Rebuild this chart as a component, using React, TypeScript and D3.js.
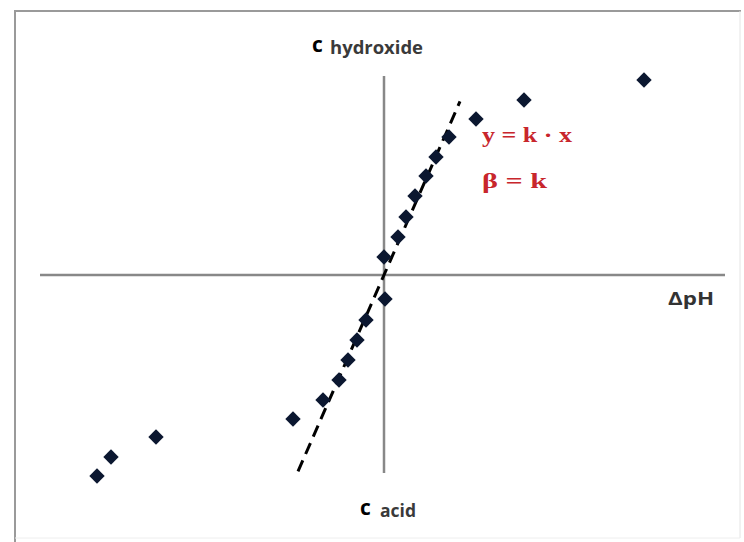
import { useEffect } from 'react';
import * as d3 from 'd3';

// measured points (ΔpH, c) — negative c = acid side
const deltaPH = [2.6, 1.4, 0.92, 0.65, 0.52, 0.42, 0.31, 0.22, 0.14, 0.0, 0.01, -0.18, -0.27, -0.36, -0.45, -0.61, -0.91, -2.28, -2.73, -2.87];
const conc = [1.95, 1.75, 1.56, 1.38, 1.18, 0.99, 0.79, 0.58, 0.38, 0.18, -0.24, -0.45, -0.65, -0.85, -1.05, -1.25, -1.44, -1.62, -1.82, -2.01];

// linear fit y = k·x drawn as a dashed line
const slopeK = 2.284;
const fitRange = [-0.86, 0.76];

const W = 744;
const H = 542;

export default function App() {
  useEffect(() => {
    document.body.style.margin = '0';
  }, []);

  const x = d3.scaleLinear().domain([-3.44, 3.41]).range([40, 725]);
  const y = d3.scaleLinear().domain([-1.98, 1.99]).range([473, 76]);

  const points = deltaPH.map((d, i) => ({ x: d, y: conc[i] }));
  const diamond = d3.symbol(d3.symbolSquare, 118)();
  const fitLine = d3
    .line<number>()
    .x((d) => x(d))
    .y((d) => y(slopeK * d));

  const [x0, x1] = x.domain();
  const [y0, y1] = y.domain();

  return (
    <svg width={W} height={H} style={{ display: 'block', background: '#fff' }}>
      {/* frame */}
      <line x1={15} y1={11} x2={741} y2={11} stroke="#9a9a9a" strokeWidth={2} />
      <line x1={15} y1={10} x2={15} y2={H} stroke="#9a9a9a" strokeWidth={2} />
      <line x1={740} y1={11} x2={740} y2={538} stroke="#e4e4e4" strokeWidth={1} />
      <line x1={15} y1={538} x2={740} y2={538} stroke="#eeeeee" strokeWidth={1} />

      {/* axes through the origin */}
      <line x1={x(x0)} y1={y(0)} x2={x(x1)} y2={y(0)} stroke="#888" strokeWidth={2.5} />
      <line x1={x(0)} y1={y(y0)} x2={x(0)} y2={y(y1)} stroke="#888" strokeWidth={2.5} />

      {/* fit line */}
      <path
        d={fitLine(fitRange) || ''}
        fill="none"
        stroke="#000"
        strokeWidth={3}
        strokeDasharray="12,7"
      />

      {/* data points */}
      {points.map((p, i) => (
        <path
          key={i}
          d={diamond || ''}
          transform={`translate(${x(p.x)},${y(p.y)}) rotate(45)`}
          fill="#0b1730"
        />
      ))}

      {/* axis labels */}
      <g fontFamily="'Open Sans', sans-serif">
        <text x={312} y={52} fontSize={21} fontWeight={700} fill="#000">c</text>
        <text x={330} y={54} fontSize={17} fontWeight={700} fill="#3a3a3a" textLength={93} lengthAdjust="spacingAndGlyphs">hydroxide</text>
        <text x={360} y={515} fontSize={21} fontWeight={700} fill="#000">c</text>
        <text x={380} y={517} fontSize={17} fontWeight={700} fill="#3a3a3a" textLength={36} lengthAdjust="spacingAndGlyphs">acid</text>
        <text x={668} y={305} fontSize={18} fontWeight={700} fill="#333" textLength={46} lengthAdjust="spacingAndGlyphs">ΔpH</text>
      </g>

      {/* formula */}
      <g fontFamily="'Liberation Serif', 'DejaVu Serif', serif" fontWeight={700} fill="#c8262c" fontSize={20}>
        <text x={482} y={142} textLength={90} lengthAdjust="spacingAndGlyphs">y = k · x</text>
        <text x={482} y={188} textLength={65} lengthAdjust="spacingAndGlyphs">β = k</text>
      </g>
    </svg>
  );
}
